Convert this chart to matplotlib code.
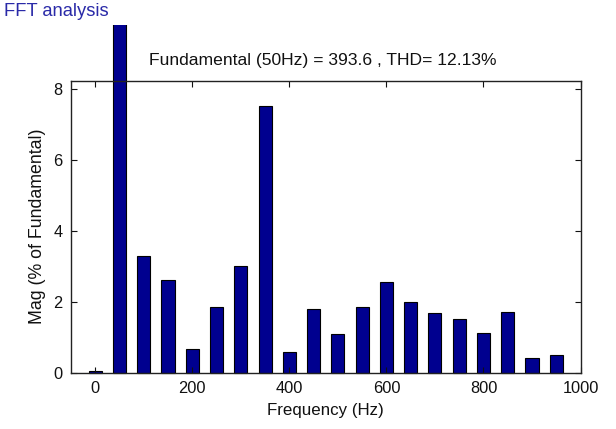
import matplotlib
matplotlib.use("Agg")
import matplotlib.pyplot as plt
from matplotlib.transforms import Bbox, TransformedBbox

plt.rcParams['font.family'] = ['Liberation Sans', 'DejaVu Sans']

freqs = [0, 50, 100, 150, 200, 250, 300, 350, 400, 450, 500,
         550, 600, 650, 700, 750, 800, 850, 900, 950]
mags = [0.05, 100.0, 3.30, 2.62, 0.68, 1.86, 3.01, 7.52, 0.59, 1.80, 1.10,
        1.86, 2.56, 2.00, 1.69, 1.52, 1.13, 1.72, 0.42, 0.50]
xticks = [0, 200, 400, 600, 800, 1000]
yticks = [0, 2, 4, 6, 8]
title = "Fundamental (50Hz) = 393.6 , THD= 12.13%"

fig = plt.figure(figsize=(6.16, 4.29), dpi=100)
ax = fig.add_axes([71/616, 1-373/429, (580.5-71)/616, (373-80.5)/429])

bars = ax.bar(freqs, mags, width=27, color='#00008f', edgecolor='black', linewidth=0.8)
clip = TransformedBbox(Bbox([[0, 0], [1, 1-25/429]]), fig.transFigure)
for b in bars:
    b.set_clip_on(True)
    b.set_clip_box(clip)

ax.set_xlim(-50, 1000)
ax.set_ylim(0, 8.23)
ax.set_xticks(xticks)
ax.set_yticks(yticks)
ax.tick_params(direction='in', length=4, width=0.8, top=True, right=True,
               labelsize=11.8, pad=6, colors='#111111')
for s in ax.spines.values():
    s.set_linewidth(1.0)
    s.set_color('#222222')

ax.set_xlabel("Frequency (Hz)", fontsize=12.2, labelpad=5, color='#111111')
ax.set_ylabel("Mag (% of Fundamental)", fontsize=12.8, labelpad=5, color='#111111')
fig.text(323/616, 1-60/429, title, ha='center', va='center', fontsize=12.6, color='#111111')
fig.text(4/616, 1-12/429, "FFT analysis", ha='left', va='center', fontsize=13.2, color='#2a2aa8')

fig.savefig("out.png", dpi=100)
